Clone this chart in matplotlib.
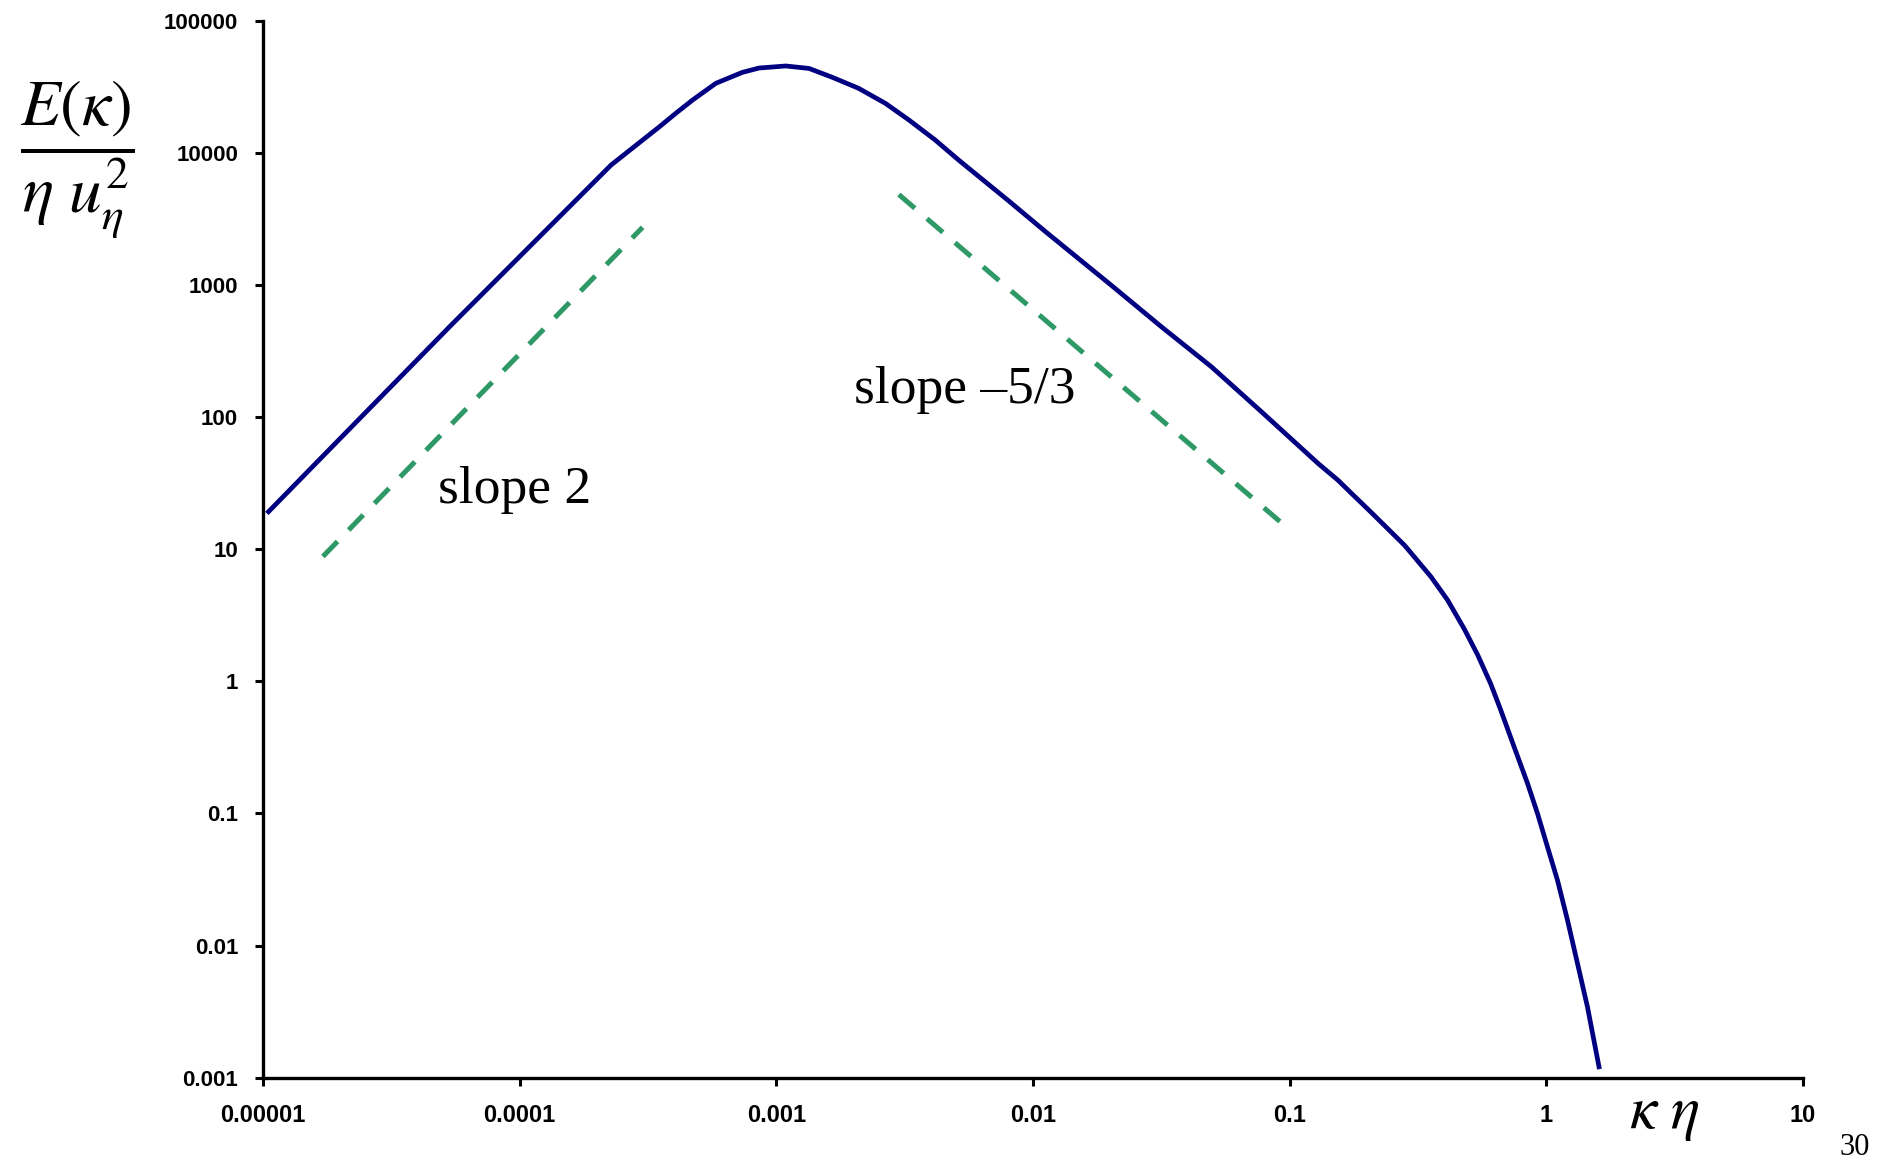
import matplotlib
matplotlib.use("Agg")
import matplotlib.pyplot as plt
import numpy as np

# energy spectrum, normalised by Kolmogorov scales
kappa_eta = [1.05e-5, 2.28e-5, 5.33e-5, 2.27e-4, 3.50e-4, 4.06e-4, 4.71e-4,
             5.81e-4, 7.36e-4, 8.55e-4, 1.087e-3, 1.34e-3, 1.65e-3, 2.09e-3,
             2.66e-3, 3.28e-3, 4.15e-3, 5.13e-3, 8.02e-3, 1.114e-2, 2.02e-2,
             3.16e-2, 4.95e-2, 7.74e-2, 0.1288, 0.154, 0.1734, 0.2075, 0.280,
             0.355, 0.412, 0.479, 0.540, 0.607, 0.664, 0.748, 0.843, 0.923,
             1.009, 1.104, 1.208, 1.321, 1.445, 1.603]
energy = [19.2, 89.5, 482, 8070, 15700, 19900, 25000,
          33500, 40500, 43700, 45300, 43400, 37200, 30700,
          23600, 17700, 12500, 8790, 4330, 2540, 990,
          482, 240, 110, 44.6, 33.3, 26.6, 19.0, 10.7,
          6.18, 4.12, 2.48, 1.58, 0.955, 0.605, 0.320, 0.170, 0.100,
          0.056, 0.0313, 0.0156, 0.00735, 0.00344, 0.00121]

# reference power laws: (slope, anchor x, anchor y, x start, x end)
ref_lines = [
    (2.0, 7.18e-5, 155.0, 1.71e-5, 3.01e-4),
    (-5.0 / 3.0, 1.673e-2, 275.0, 3.0e-3, 9.33e-2),
]
ref_labels = ["slope 2", "slope \u20135/3"]
ref_label_pos = [(4.79e-5, 22.3), (2.0e-3, 127.0)]

xticks = [1e-5, 1e-4, 1e-3, 1e-2, 1e-1, 1, 10]
xticklabels = ["0.00001", "0.0001", "0.001", "0.01", "0.1", "1", "10"]
yticks = [1e-3, 1e-2, 1e-1, 1, 10, 100, 1000, 10000, 100000]
yticklabels = ["0.001", "0.01", "0.1", "1", "10", "100", "1000", "10000", "100000"]

plt.rcParams["mathtext.fontset"] = "stix"

fig = plt.figure(figsize=(18.94, 11.6), dpi=100)
ax = fig.add_axes([0.1389, 0.0709, 0.8131, 0.9114])

ax.plot(kappa_eta, energy, color="#000080", lw=3.4, solid_joinstyle="round")

for (slope, xa, ya, x0, x1) in ref_lines:
    xs = np.array([x0, x1])
    ys = ya * (xs / xa) ** slope
    ax.plot(xs, ys, color="#2e9966", lw=3.6, dashes=(4.2, 3.2))

for lbl, (tx, ty) in zip(ref_labels, ref_label_pos):
    ax.text(tx, ty, lbl, fontsize=38.5, family="Liberation Serif",
            ha="left", va="baseline")

ax.set_xscale("log")
ax.set_yscale("log")
ax.set_xlim(1e-5, 10)
ax.set_ylim(1e-3, 1e5)
ax.set_xticks(xticks)
ax.set_xticklabels(xticklabels)
ax.set_yticks(yticks)
ax.set_yticklabels(yticklabels)
ax.minorticks_off()

for lab in ax.get_xticklabels():
    lab.set_family("Liberation Sans")
    lab.set_fontweight("bold")
    lab.set_fontsize(17)
for lab in ax.get_yticklabels():
    lab.set_family("Liberation Sans")
    lab.set_fontweight("bold")
    lab.set_fontsize(16)

ax.tick_params(axis="both", direction="out", length=6, width=2.2, color="black")
ax.tick_params(axis="x", pad=13)
ax.tick_params(axis="y", pad=12)
for side in ("top", "right"):
    ax.spines[side].set_visible(False)
for side in ("left", "bottom"):
    ax.spines[side].set_linewidth(2.4)

fig.text(0.0405, 0.862, r"$\dfrac{E(\kappa)}{\eta\ u_\eta^{2}}$", fontsize=47,
         ha="center", va="center")
fig.text(0.8786, 0.0276, r"$\kappa\ \eta$", fontsize=44, ha="center", va="baseline")
fig.text(0.9795, 0.004, "30", fontsize=22, family="Liberation Serif",
         ha="center", va="baseline")

fig.savefig("out.png", dpi=100)
